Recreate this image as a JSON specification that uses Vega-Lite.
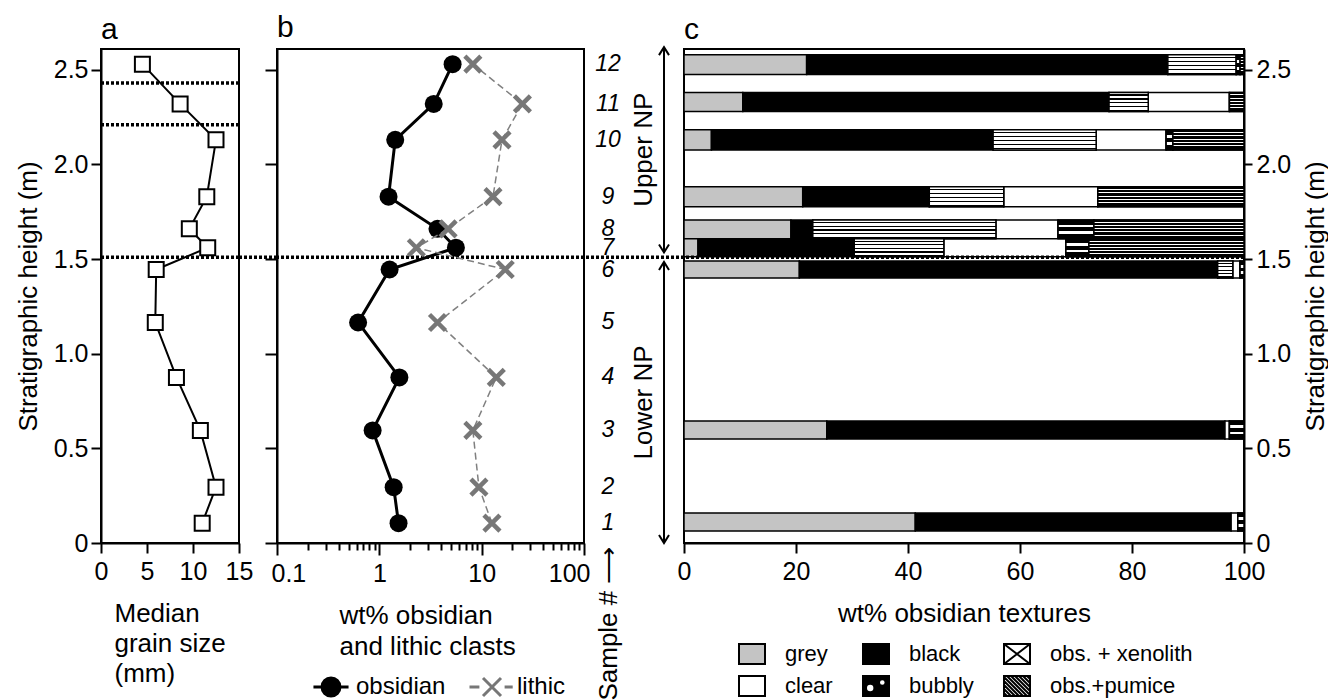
{
  "$schema": "https://vega.github.io/schema/vega-lite/v6.json",
  "padding": {"left": 14, "top": 12, "right": 2, "bottom": 0},
  "bounds": "flush",
  "spacing": 0,
  "config": {
    "font": "Liberation Sans",
    "view": {"stroke": "black", "strokeWidth": 2},
    "axis": {"labelFontSize": 25, "titleFontSize": 26, "labelColor": "black", "titleColor": "black", "domainColor": "black", "tickColor": "black", "domainWidth": 2, "tickWidth": 2, "grid": false, "titleFontWeight": "normal", "labelFont": "Liberation Sans", "titleFont": "Liberation Sans", "labelFlush": false},
    "legend": {"labelFontSize": 24, "labelColor": "black", "labelFont": "Liberation Sans", "padding": 0},
    "title": {"fontSize": 30, "fontWeight": "normal", "anchor": "start", "frame": "group", "offset": 4, "color": "black", "font": "Liberation Sans"}
  },
  "resolve": {
    "scale": {"x": "independent", "y": "independent", "fill": "independent", "stroke": "independent", "shape": "independent"},
    "legend": {"fill": "independent", "stroke": "independent", "shape": "independent"}
  },
  "datasets": {
    "samples": [
      {"s": 12, "h": 2.53, "grain": 4.5, "obsidian": 5.2, "lithic": 8.2},
      {"s": 11, "h": 2.32, "grain": 8.6, "obsidian": 3.4, "lithic": 25},
      {"s": 10, "h": 2.13, "grain": 12.5, "obsidian": 1.43, "lithic": 15.8},
      {"s": 9, "h": 1.83, "grain": 11.5, "obsidian": 1.23, "lithic": 12.9},
      {"s": 8, "h": 1.66, "grain": 9.6, "obsidian": 3.7, "lithic": 4.7},
      {"s": 7, "h": 1.56, "grain": 11.6, "obsidian": 5.6, "lithic": 2.3},
      {"s": 6, "h": 1.445, "grain": 6.0, "obsidian": 1.26, "lithic": 17},
      {"s": 5, "h": 1.165, "grain": 5.9, "obsidian": 0.62, "lithic": 3.7},
      {"s": 4, "h": 0.875, "grain": 8.2, "obsidian": 1.57, "lithic": 13.9},
      {"s": 3, "h": 0.595, "grain": 10.8, "obsidian": 0.86, "lithic": 8.2},
      {"s": 2, "h": 0.295, "grain": 12.5, "obsidian": 1.38, "lithic": 9.4},
      {"s": 1, "h": 0.105, "grain": 11.0, "obsidian": 1.54, "lithic": 12.6}
    ],
    "breaks": [
      {"h": 1.51, "span": "all"},
      {"h": 2.43, "span": "a"},
      {"h": 2.21, "span": "a"}
    ],
    "units": [
      {"unit": "Upper NP", "lo": 1.535, "hi": 2.62},
      {"unit": "Lower NP", "lo": 0, "hi": 1.485}
    ],
    "textures": [
      {"s": 12, "type": "grey", "start": 0, "end": 21.9, "lo": 2.475, "hi": 2.58},
      {"s": 12, "type": "black", "start": 21.9, "end": 86.4, "lo": 2.475, "hi": 2.58},
      {"s": 12, "type": "obs. + xenolith", "start": 86.4, "end": 98.6, "lo": 2.475, "hi": 2.58},
      {"s": 12, "type": "bubbly", "start": 98.6, "end": 99.3, "lo": 2.475, "hi": 2.58},
      {"s": 12, "type": "obs.+pumice", "start": 99.3, "end": 100, "lo": 2.475, "hi": 2.58},
      {"s": 11, "type": "grey", "start": 0, "end": 10.5, "lo": 2.28, "hi": 2.38},
      {"s": 11, "type": "black", "start": 10.5, "end": 75.9, "lo": 2.28, "hi": 2.38},
      {"s": 11, "type": "obs. + xenolith", "start": 75.9, "end": 82.9, "lo": 2.28, "hi": 2.38},
      {"s": 11, "type": "clear", "start": 82.9, "end": 97.4, "lo": 2.28, "hi": 2.38},
      {"s": 11, "type": "obs.+pumice", "start": 97.4, "end": 100, "lo": 2.28, "hi": 2.38},
      {"s": 10, "type": "grey", "start": 0, "end": 4.9, "lo": 2.077, "hi": 2.183},
      {"s": 10, "type": "black", "start": 4.9, "end": 55.2, "lo": 2.077, "hi": 2.183},
      {"s": 10, "type": "obs. + xenolith", "start": 55.2, "end": 73.6, "lo": 2.077, "hi": 2.183},
      {"s": 10, "type": "clear", "start": 73.6, "end": 86.1, "lo": 2.077, "hi": 2.183},
      {"s": 10, "type": "bubbly", "start": 86.1, "end": 87.3, "lo": 2.077, "hi": 2.183},
      {"s": 10, "type": "obs.+pumice", "start": 87.3, "end": 100, "lo": 2.077, "hi": 2.183},
      {"s": 9, "type": "grey", "start": 0, "end": 21.2, "lo": 1.776, "hi": 1.882},
      {"s": 9, "type": "black", "start": 21.2, "end": 43.8, "lo": 1.776, "hi": 1.882},
      {"s": 9, "type": "obs. + xenolith", "start": 43.8, "end": 57.1, "lo": 1.776, "hi": 1.882},
      {"s": 9, "type": "clear", "start": 57.1, "end": 73.9, "lo": 1.776, "hi": 1.882},
      {"s": 9, "type": "obs.+pumice", "start": 73.9, "end": 100, "lo": 1.776, "hi": 1.882},
      {"s": 8, "type": "grey", "start": 0, "end": 19.1, "lo": 1.607, "hi": 1.707},
      {"s": 8, "type": "black", "start": 19.1, "end": 23.0, "lo": 1.607, "hi": 1.707},
      {"s": 8, "type": "obs. + xenolith", "start": 23.0, "end": 55.7, "lo": 1.607, "hi": 1.707},
      {"s": 8, "type": "clear", "start": 55.7, "end": 66.8, "lo": 1.607, "hi": 1.707},
      {"s": 8, "type": "bubbly", "start": 66.8, "end": 73.2, "lo": 1.607, "hi": 1.707},
      {"s": 8, "type": "obs.+pumice", "start": 73.2, "end": 100, "lo": 1.607, "hi": 1.707},
      {"s": 7, "type": "grey", "start": 0, "end": 2.5, "lo": 1.512, "hi": 1.607},
      {"s": 7, "type": "black", "start": 2.5, "end": 30.4, "lo": 1.512, "hi": 1.607},
      {"s": 7, "type": "obs. + xenolith", "start": 30.4, "end": 46.4, "lo": 1.512, "hi": 1.607},
      {"s": 7, "type": "clear", "start": 46.4, "end": 68.2, "lo": 1.512, "hi": 1.607},
      {"s": 7, "type": "bubbly", "start": 68.2, "end": 72.3, "lo": 1.512, "hi": 1.607},
      {"s": 7, "type": "obs.+pumice", "start": 72.3, "end": 100, "lo": 1.512, "hi": 1.607},
      {"s": 6, "type": "grey", "start": 0, "end": 20.6, "lo": 1.40, "hi": 1.49},
      {"s": 6, "type": "black", "start": 20.6, "end": 95.3, "lo": 1.40, "hi": 1.49},
      {"s": 6, "type": "obs. + xenolith", "start": 95.3, "end": 98.0, "lo": 1.40, "hi": 1.49},
      {"s": 6, "type": "clear", "start": 98.0, "end": 99.3, "lo": 1.40, "hi": 1.49},
      {"s": 6, "type": "bubbly", "start": 99.3, "end": 100, "lo": 1.40, "hi": 1.49},
      {"s": 3, "type": "grey", "start": 0, "end": 25.5, "lo": 0.55, "hi": 0.645},
      {"s": 3, "type": "black", "start": 25.5, "end": 96.6, "lo": 0.55, "hi": 0.645},
      {"s": 3, "type": "clear", "start": 96.6, "end": 97.4, "lo": 0.55, "hi": 0.645},
      {"s": 3, "type": "bubbly", "start": 97.4, "end": 100, "lo": 0.55, "hi": 0.645},
      {"s": 1, "type": "grey", "start": 0, "end": 41.3, "lo": 0.063, "hi": 0.159},
      {"s": 1, "type": "black", "start": 41.3, "end": 97.7, "lo": 0.063, "hi": 0.159},
      {"s": 1, "type": "clear", "start": 97.7, "end": 98.9, "lo": 0.063, "hi": 0.159},
      {"s": 1, "type": "bubbly", "start": 98.9, "end": 100, "lo": 0.063, "hi": 0.159}
    ]
  },
  "hconcat": [
    {
      "width": 138,
      "height": 494,
      "title": "a",
      "layer": [
        {
          "data": {"name": "breaks"},
          "mark": {"type": "rule", "color": "black", "strokeWidth": 3.5, "strokeDash": [3, 2]},
          "encoding": {
            "y": {"field": "h", "type": "quantitative", "scale": {"domain": [0, 2.61], "nice": false, "zero": false},
              "axis": {"values": [0, 0.5, 1, 1.5, 2, 2.5], "labelExpr": "datum.value == 0 ? '0' : format(datum.value, '.1f')", "tickSize": 10, "labelPadding": 3, "title": "Stratigraphic height (m)", "titlePadding": 12}}
          }
        },
        {
          "data": {"name": "samples"},
          "mark": {"type": "line", "color": "black", "strokeWidth": 2},
          "encoding": {
            "x": {"field": "grain", "type": "quantitative", "scale": {"domain": [0, 15], "nice": false},
              "axis": {"values": [0, 5, 10, 15], "tickSize": 10, "labelPadding": 6, "title": ["Median", "grain size", "(mm)"], "titleAlign": "left", "titleAnchor": "start", "titleX": 13, "titlePadding": 16, "titleLineHeight": 30}},
            "y": {"field": "h", "type": "quantitative"},
            "order": {"field": "h", "type": "quantitative"}
          }
        },
        {
          "data": {"name": "samples"},
          "mark": {"type": "point", "shape": "square", "filled": true, "fill": "white", "stroke": "black", "strokeWidth": 2, "size": 225, "opacity": 1},
          "encoding": {
            "x": {"field": "grain", "type": "quantitative"},
            "y": {"field": "h", "type": "quantitative"}
          }
        }
      ]
    },
    {
      "width": 38,
      "height": 494,
      "view": {"stroke": null},
      "data": {"name": "breaks"},
      "transform": [{"filter": "datum.span == 'all'"}],
      "mark": {"type": "rule", "color": "black", "strokeWidth": 3.5, "strokeDash": [3, 2]},
      "encoding": {
        "y": {"field": "h", "type": "quantitative", "scale": {"domain": [0, 2.61], "nice": false, "zero": false}, "axis": null}
      }
    },
    {
      "width": 307,
      "height": 494,
      "title": "b",
      "layer": [
        {
          "data": {"name": "breaks"},
          "transform": [{"filter": "datum.span == 'all'"}],
          "mark": {"type": "rule", "color": "black", "strokeWidth": 3.5, "strokeDash": [3, 2]},
          "encoding": {
            "y": {"field": "h", "type": "quantitative", "scale": {"domain": [0, 2.61], "nice": false, "zero": false},
              "axis": {"values": [0, 0.5, 1, 1.5, 2, 2.5], "labels": false, "tickSize": 12, "title": null}}
          }
        },
        {
          "data": {"name": "samples"},
          "mark": {"type": "line", "color": "black", "strokeWidth": 3},
          "encoding": {
            "x": {"field": "obsidian", "type": "quantitative", "scale": {"type": "log", "domain": [0.1, 100], "nice": false},
              "axis": {"values": [0.1, 0.2, 0.3, 0.4, 0.5, 0.6, 0.7, 0.8, 0.9, 1, 2, 3, 4, 5, 6, 7, 8, 9, 10, 20, 30, 40, 50, 60, 70, 80, 90, 100],
                "format": "~g", "labelExpr": "indexof([0.1, 1, 10, 100], datum.value) >= 0 ? datum.label : ''", "labelOverlap": false,
                "labelFlush": true, "labelFlushOffset": 6,
                "tickSize": {"condition": {"test": "indexof([0.1, 1, 10, 100], datum.value) >= 0", "value": 12}, "value": 7},
                "labelPadding": 6, "title": ["wt% obsidian", "and lithic clasts"], "titleAlign": "left", "titleAnchor": "start", "titleX": 62, "titlePadding": 16, "titleLineHeight": 31}},
            "y": {"field": "h", "type": "quantitative"},
            "order": {"field": "h", "type": "quantitative"}
          }
        },
        {
          "data": {"name": "samples"},
          "mark": {"type": "point", "shape": "circle", "filled": true, "color": "black", "size": 324, "opacity": 1},
          "encoding": {
            "x": {"field": "obsidian", "type": "quantitative"},
            "y": {"field": "h", "type": "quantitative"}
          }
        },
        {
          "data": {"name": "samples"},
          "mark": {"type": "line", "color": "#808080", "strokeWidth": 1.5, "strokeDash": [7, 4]},
          "encoding": {
            "x": {"field": "lithic", "type": "quantitative"},
            "y": {"field": "h", "type": "quantitative"},
            "order": {"field": "h", "type": "quantitative"}
          }
        },
        {
          "data": {"name": "samples"},
          "mark": {"type": "point", "shape": "M-1,-1L1,1M-1,1L1,-1", "filled": false, "stroke": "#777777", "strokeWidth": 4.5, "size": 256, "opacity": 1},
          "encoding": {
            "x": {"field": "lithic", "type": "quantitative"},
            "y": {"field": "h", "type": "quantitative"}
          }
        },
        {
          "data": {"name": "samples"},
          "transform": [{"fold": ["obsidian", "lithic"], "as": ["series", "v"]}],
          "mark": {"type": "point", "filled": true, "opacity": 0, "strokeWidth": 3, "size": 324},
          "encoding": {
            "x": {"field": "v", "type": "quantitative"},
            "y": {"field": "h", "type": "quantitative"},
            "shape": {"field": "series", "type": "nominal",
              "scale": {"domain": ["obsidian", "lithic"], "range": ["M-1.95,0H1.95M-1,0A1,1,0,1,0,1,0A1,1,0,1,0,-1,0", "M-2.5,0H-1.4M1.4,0H2.3M-1,-1L1,1M-1,1L1,-1"]},
              "legend": {"title": null, "orient": "none", "legendX": 42, "legendY": 626, "direction": "horizontal", "symbolSize": 324, "symbolStrokeWidth": 3, "labelOffset": 13, "columnPadding": 17, "labelFontSize": 24, "symbolOpacity": 1, "encode": {"symbols": {"update": {"opacity": {"value": 1}}}}}},
            "fill": {"field": "series", "type": "nominal",
              "scale": {"domain": ["obsidian", "lithic"], "range": ["black", "#777777"]},
              "legend": {"title": null, "orient": "none", "legendX": 42, "legendY": 626, "direction": "horizontal", "symbolSize": 324, "symbolStrokeWidth": 3, "labelOffset": 13, "columnPadding": 17, "labelFontSize": 24, "symbolOpacity": 1, "encode": {"symbols": {"update": {"opacity": {"value": 1}}}}}},
            "stroke": {"field": "series", "type": "nominal",
              "scale": {"domain": ["obsidian", "lithic"], "range": ["black", "#777777"]},
              "legend": {"title": null, "orient": "none", "legendX": 42, "legendY": 626, "direction": "horizontal", "symbolSize": 324, "symbolStrokeWidth": 3, "labelOffset": 13, "columnPadding": 17, "labelFontSize": 24, "symbolOpacity": 1, "encode": {"symbols": {"update": {"opacity": {"value": 1}}}}}}
          }
        }
      ]
    },
    {
      "width": 100,
      "height": 494,
      "view": {"stroke": null},
      "layer": [
        {
          "data": {"name": "breaks"},
          "transform": [{"filter": "datum.span == 'all'"}],
          "mark": {"type": "rule", "color": "black", "strokeWidth": 3.5, "strokeDash": [3, 2]},
          "encoding": {
            "y": {"field": "h", "type": "quantitative", "scale": {"domain": [0, 2.61], "nice": false, "zero": false}, "axis": null}
          }
        },
        {
          "data": {"name": "samples"},
          "mark": {"type": "text", "fontSize": 23, "fontStyle": "italic", "font": "Liberation Sans", "color": "black", "align": "center", "baseline": "middle"},
          "encoding": {
            "x": {"datum": 24, "type": "quantitative", "scale": {"domain": [0, 100], "nice": false},
              "axis": {"title": "Sample #  ⟶", "domain": false, "ticks": false, "labels": false, "titleAngle": 270, "titleAlign": "right", "titleBaseline": "middle", "titleX": 24, "titleY": 3, "titleFontSize": 26}},
            "y": {"field": "h", "type": "quantitative"},
            "text": {"field": "s", "type": "nominal"}
          }
        },
        {
          "data": {"name": "units"},
          "mark": {"type": "rule", "color": "black", "strokeWidth": 2},
          "encoding": {
            "x": {"datum": 80, "type": "quantitative"},
            "y": {"field": "lo", "type": "quantitative"},
            "y2": {"field": "hi"}
          }
        },
        {
          "data": {"name": "units"},
          "transform": [{"fold": ["lo", "hi"], "as": ["end", "pos"]}],
          "mark": {"type": "point", "filled": false, "stroke": "black", "strokeWidth": 2, "size": 100, "opacity": 1},
          "encoding": {
            "x": {"datum": 80, "type": "quantitative"},
            "y": {"field": "pos", "type": "quantitative"},
            "shape": {"field": "end", "type": "nominal", "scale": {"domain": ["hi", "lo"], "range": ["M-1,1.6L0,0L1,1.6", "M-1,-1.6L0,0L1,-1.6"]}, "legend": null}
          }
        },
        {
          "data": {"name": "units"},
          "transform": [{"calculate": "(datum.lo + datum.hi) / 2", "as": "mid"}],
          "mark": {"type": "text", "angle": 270, "fontSize": 26, "baseline": "middle", "align": "center", "color": "black"},
          "encoding": {
            "x": {"datum": 60, "type": "quantitative"},
            "y": {"field": "mid", "type": "quantitative"},
            "text": {"field": "unit", "type": "nominal"}
          }
        }
      ]
    },
    {
      "width": 560,
      "height": 494,
      "title": "c",
      "layer": [
        {
          "data": {"name": "textures"},
          "mark": {"type": "rect", "stroke": "black", "strokeWidth": 1.5},
          "encoding": {
            "x": {"field": "start", "type": "quantitative", "scale": {"domain": [0, 100], "nice": false},
              "axis": {"values": [0, 20, 40, 60, 80, 100], "tickSize": 10, "labelPadding": 6, "title": "wt% obsidian textures", "titlePadding": 16}},
            "x2": {"field": "end"},
            "y": {"field": "lo", "type": "quantitative", "scale": {"domain": [0, 2.61], "nice": false, "zero": false},
              "axis": {"orient": "right", "values": [0, 0.5, 1, 1.5, 2, 2.5], "labelExpr": "datum.value == 0 ? '0' : format(datum.value, '.1f')", "tickSize": 8, "labelPadding": 4, "title": "Stratigraphic height (m)", "titleAngle": 270, "titleBaseline": "top", "titlePadding": 12}},
            "y2": {"field": "hi"},
            "fill": {"field": "type", "type": "nominal",
              "scale": {
                "domain": ["grey", "black", "obs. + xenolith", "clear", "bubbly", "obs.+pumice"],
                "range": ["#c4c4c4", "#000000", "#ffffff", "#ffffff", "#000000", "#ffffff"]
              },
              "legend": {"title": null, "orient": "none", "legendX": 57, "legendY": 594, "direction": "horizontal", "columns": 3, "symbolSize": 400, "symbolStrokeColor": "black", "symbolStrokeWidth": 2, "labelOffset": 22, "rowPadding": 4, "columnPadding": 26, "labelFontSize": 22, "symbolOpacity": 1, "encode": {"symbols": {"update": {"opacity": {"value": 1}}}}}}
          }
        },
        {
          "data": {"name": "textures"},
          "transform": [{"filter": "datum.type === 'obs. + xenolith'"}],
          "mark": {"type": "rect", "stroke": "black", "strokeWidth": 1.5,
            "fill": {"gradient": "linear", "x1": 0, "y1": 0, "x2": 0, "y2": 1, "stops": [
              {"offset": 0, "color": "white"}, {"offset": 0.1, "color": "white"}, {"offset": 0.1, "color": "black"}, {"offset": 0.17, "color": "black"},
              {"offset": 0.17, "color": "white"}, {"offset": 0.3, "color": "white"}, {"offset": 0.3, "color": "black"}, {"offset": 0.37, "color": "black"},
              {"offset": 0.37, "color": "white"}, {"offset": 0.5, "color": "white"}, {"offset": 0.5, "color": "black"}, {"offset": 0.57, "color": "black"},
              {"offset": 0.57, "color": "white"}, {"offset": 0.7, "color": "white"}, {"offset": 0.7, "color": "black"}, {"offset": 0.77, "color": "black"},
              {"offset": 0.77, "color": "white"}, {"offset": 0.9, "color": "white"}, {"offset": 0.9, "color": "black"}, {"offset": 0.97, "color": "black"},
              {"offset": 0.97, "color": "white"}, {"offset": 1, "color": "white"}]}},
          "encoding": {
            "x": {"field": "start", "type": "quantitative"},
            "x2": {"field": "end"},
            "y": {"field": "lo", "type": "quantitative"},
            "y2": {"field": "hi"}
          }
        },
        {
          "data": {"name": "textures"},
          "transform": [{"filter": "datum.type === 'bubbly'"}],
          "mark": {"type": "rect", "stroke": "black", "strokeWidth": 1.5,
            "fill": {"gradient": "linear", "x1": 0, "y1": 0, "x2": 0, "y2": 1, "stops": [
              {"offset": 0, "color": "black"}, {"offset": 0.25, "color": "black"}, {"offset": 0.25, "color": "white"}, {"offset": 0.4, "color": "white"},
              {"offset": 0.4, "color": "black"}, {"offset": 0.6, "color": "black"}, {"offset": 0.6, "color": "white"}, {"offset": 0.75, "color": "white"},
              {"offset": 0.75, "color": "black"}, {"offset": 1, "color": "black"}]}},
          "encoding": {
            "x": {"field": "start", "type": "quantitative"},
            "x2": {"field": "end"},
            "y": {"field": "lo", "type": "quantitative"},
            "y2": {"field": "hi"}
          }
        },
        {
          "data": {"name": "textures"},
          "transform": [{"filter": "datum.type === 'obs.+pumice'"}],
          "mark": {"type": "rect", "stroke": "black", "strokeWidth": 1.5,
            "fill": {"gradient": "linear", "x1": 0, "y1": 0, "x2": 0, "y2": 1, "stops": [
              {"offset": 0, "color": "black"}, {"offset": 0.1, "color": "black"}, {"offset": 0.1, "color": "white"}, {"offset": 0.15, "color": "white"},
              {"offset": 0.15, "color": "black"}, {"offset": 0.27, "color": "black"}, {"offset": 0.27, "color": "white"}, {"offset": 0.32, "color": "white"},
              {"offset": 0.32, "color": "black"}, {"offset": 0.44, "color": "black"}, {"offset": 0.44, "color": "white"}, {"offset": 0.49, "color": "white"},
              {"offset": 0.49, "color": "black"}, {"offset": 0.61, "color": "black"}, {"offset": 0.61, "color": "white"}, {"offset": 0.66, "color": "white"},
              {"offset": 0.66, "color": "black"}, {"offset": 0.78, "color": "black"}, {"offset": 0.78, "color": "white"}, {"offset": 0.83, "color": "white"},
              {"offset": 0.83, "color": "black"}, {"offset": 1, "color": "black"}]}},
          "encoding": {
            "x": {"field": "start", "type": "quantitative"},
            "x2": {"field": "end"},
            "y": {"field": "lo", "type": "quantitative"},
            "y2": {"field": "hi"}
          }
        },
        {
          "data": {"name": "textures"},
          "mark": {"type": "point", "filled": true, "opacity": 0, "size": 400},
          "encoding": {
            "x": {"field": "start", "type": "quantitative"},
            "y": {"field": "lo", "type": "quantitative"},
            "fill": {"field": "type", "type": "nominal",
              "legend": {"title": null, "orient": "none", "legendX": 57, "legendY": 594, "direction": "horizontal", "columns": 3, "symbolSize": 400, "symbolStrokeColor": "black", "symbolStrokeWidth": 2, "labelOffset": 22, "rowPadding": 4, "columnPadding": 26, "labelFontSize": 22, "symbolOpacity": 1, "encode": {"symbols": {"update": {"opacity": {"value": 1}}}}}},
            "shape": {"field": "type", "type": "nominal",
              "scale": {
                "domain": ["grey", "black", "obs. + xenolith", "clear", "bubbly", "obs.+pumice"],
                "range": [
                  "M-1.3,-1H1.3V1H-1.3Z",
                  "M-1.3,-1H1.3V1H-1.3Z",
                  "M-1.3,-1H1.3V1H-1.3ZM-1.3,-1L1.3,1M-1.3,1L1.3,-1",
                  "M-1.3,-1H1.3V1H-1.3Z",
                  "M-1.3,-1H1.3V1H-1.3ZM-1.0,0.2A0.42,0.42,0,1,0,-0.16,0.2A0.42,0.42,0,1,0,-1.0,0.2ZM0.3,-0.35A0.33,0.33,0,1,0,0.96,-0.35A0.33,0.33,0,1,0,0.3,-0.35Z",
                  "M-1.3,-1H1.3V1H-1.3ZM-1.3,0.7L-1,1M-1.3,0.3L-0.6,1M-1.3,-0.1L-0.2,1M-1.3,-0.5L0.2,1M-1.3,-0.9L0.6,1M-1,-1L1,1M-0.6,-1L1.3,0.9M-0.2,-1L1.3,0.5M0.2,-1L1.3,0.1M0.6,-1L1.3,-0.3M1,-1L1.3,-0.7"
                ]
              },
              "legend": {"title": null, "orient": "none", "legendX": 57, "legendY": 594, "direction": "horizontal", "columns": 3, "symbolSize": 400, "symbolStrokeColor": "black", "symbolStrokeWidth": 2, "labelOffset": 22, "rowPadding": 4, "columnPadding": 26, "labelFontSize": 22, "symbolOpacity": 1, "encode": {"symbols": {"update": {"opacity": {"value": 1}}}}}}
          }
        },
        {
          "data": {"name": "breaks"},
          "transform": [{"filter": "datum.span == 'all'"}],
          "mark": {"type": "rule", "color": "black", "strokeWidth": 3.5, "strokeDash": [3, 2]},
          "encoding": {
            "y": {"field": "h", "type": "quantitative"}
          }
        }
      ]
    }
  ]
}
